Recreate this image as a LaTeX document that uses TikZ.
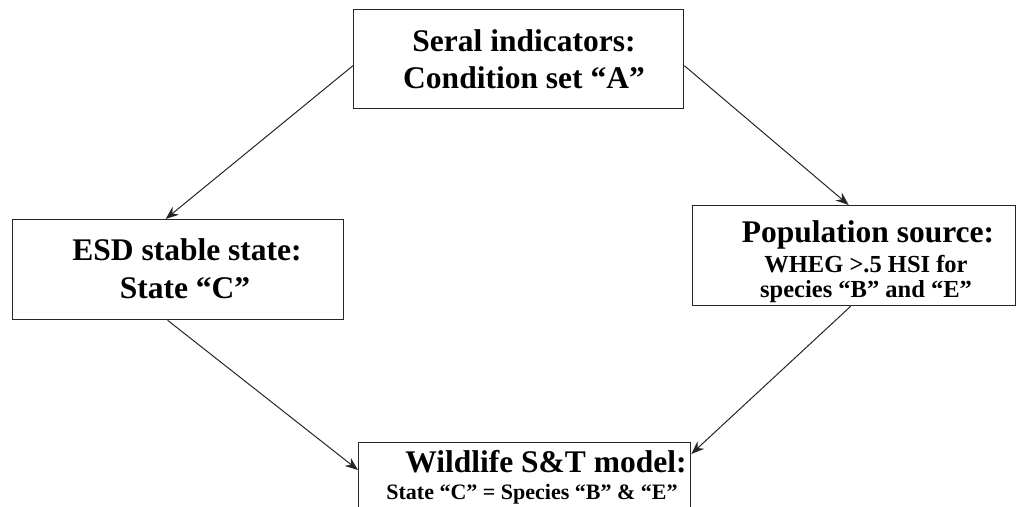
\documentclass[tikz,border=0pt]{standalone}
\usepackage{fontspec}
\setmainfont{Liberation Serif}
\usetikzlibrary{arrows.meta,calc}
\begin{document}
\begin{tikzpicture}[x=1pt,y=-1pt,
  box/.style={draw=black!85,line width=1.3pt,inner sep=0pt,anchor=north west},
  big/.style={font=\bfseries\fontsize{31.5}{31.5}\selectfont,anchor=base,inner sep=0pt},
  mid/.style={font=\bfseries\fontsize{24.5}{24.5}\selectfont,anchor=base,inner sep=0pt},
  small/.style={font=\bfseries\fontsize{22}{22}\selectfont,anchor=base,inner sep=0pt},
  arr/.style={draw=black!85,line width=1pt,-{Stealth[length=13pt,width=10pt]}}]
\useasboundingbox (0,0) rectangle (1016,506);
\clip (0,0) rectangle (1016,506);
% boxes
\node[box,minimum width=330pt,minimum height=99pt] (top) at (353,9) {};
\node[box,minimum width=331pt,minimum height=100pt] (left) at (12,219) {};
\node[box,minimum width=323pt,minimum height=100pt] (right) at (692,205) {};
\node[box,minimum width=332pt,minimum height=100pt] (bottom) at (358,442) {};
% texts
\node[big] (t1) at (524,51) {Seral indicators:};
\node[big] (t2) at (524,88) {Condition set “A”};
\node[big] (l1) at (187,260) {ESD stable state:};
\node[big] (l2) at (185,298) {State “C”};
\node[big] (r1) at (868,242) {Population source:};
\node[mid] (r2) at (866,272) {WHEG >.5 HSI for};
\node[mid] (r3) at (866,297) {species “B” and “E”};
\node[big] (b1) at (546,472) {Wildlife S\&T model:};
\node[small] (b2) at (532,499) {State “C” = Species “B” \& “E”};
% connector end points
\coordinate (a1s) at ([yshift=-6.5pt]top.west);
\coordinate (a1e) at ([xshift=-12.5pt]left.north);
\coordinate (a2s) at ([yshift=-6.5pt]top.east);
\coordinate (a2e) at ([xshift=-5.5pt]right.north);
\coordinate (a3s) at ([xshift=-10.5pt]left.south);
\coordinate (a3e) at ([yshift=-28pt]bottom.north west);
\coordinate (a4s) at ([xshift=-3.5pt]right.south);
\coordinate (a4e) at ([yshift=-12pt]bottom.north east);
\draw[arr] (a1s) -- (a1e);
\draw[arr] (a2s) -- (a2e);
\draw[arr] (a3s) -- (a3e);
\draw[arr] (a4s) -- (a4e);
\end{tikzpicture}
\end{document}
